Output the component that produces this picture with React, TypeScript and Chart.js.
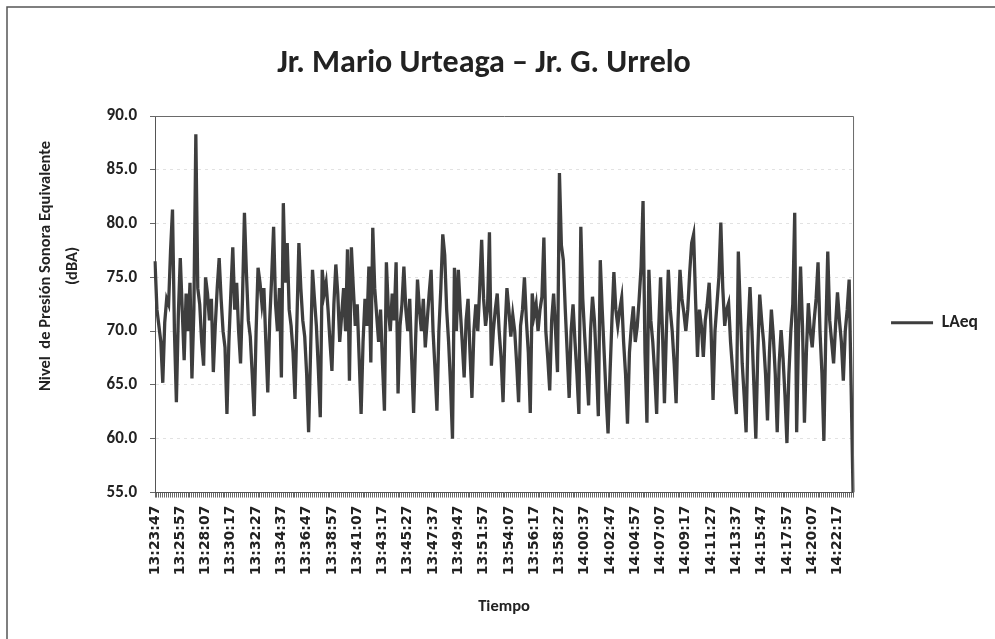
import React, { useEffect, useRef } from 'react';
import { Chart, registerables } from 'chart.js';

Chart.register(...registerables);

const TITLE = 'Jr. Mario Urteaga – Jr. G. Urrelo';
const Y_TITLE = ['Nivel  de Presión Sonora Equivalente', '(dBA)'];
const X_TITLE = 'Tiempo';
const SERIES_NAME = 'LAeq';

const START_TIME = '13:23:47';
const STEP_SECONDS = 10;

const Y_MIN = 55;
const Y_MAX = 90;
const Y_STEP = 5;

const TICK_LABELS = [
  '13:23:47', '13:25:57', '13:28:07', '13:30:17', '13:32:27', '13:34:37', '13:36:47',
  '13:38:57', '13:41:07', '13:43:17', '13:45:27', '13:47:37', '13:49:47', '13:51:57',
  '13:54:07', '13:56:17', '13:58:27', '14:00:37', '14:02:47', '14:04:57', '14:07:07',
  '14:09:17', '14:11:27', '14:13:37', '14:15:47', '14:17:57', '14:20:07', '14:22:17',
];

// LAeq (dBA), one reading every 10 s
const LAEQ = [
  76.5, 72.0, 70.5, 69.0, 65.2, 70.8, 73.0, 72.5, 77.5, 81.3,
  70.0, 63.4, 71.5, 76.8, 72.0, 67.3, 73.5, 70.0, 74.5, 65.6,
  72.0, 88.3, 74.0, 72.5, 69.0, 66.8, 75.0, 73.5, 71.0, 73.0,
  66.2, 70.5, 74.0, 76.8, 73.0, 70.0, 68.5, 62.3, 69.0, 73.5,
  77.8, 72.0, 74.5, 70.0, 67.0, 73.0, 81.0, 75.5, 71.0, 69.5,
  66.0, 62.1, 70.0, 75.9, 74.5, 72.5, 74.0, 69.0, 64.3, 71.0,
  75.0, 79.7, 72.5, 70.0, 74.0, 65.7, 81.9, 74.5, 78.2, 72.0,
  70.5, 68.0, 63.7, 71.0, 78.2, 74.0, 71.0, 69.5, 66.0, 60.6,
  68.0, 75.7, 73.0, 70.5, 66.5, 62.0, 75.7, 73.5, 74.5, 72.0,
  69.0, 66.3, 72.5, 76.2, 73.5, 69.0, 71.5, 74.0, 70.0, 77.6,
  65.4, 77.8, 74.0, 70.5, 72.5, 67.5, 62.3, 69.0, 73.0, 70.5,
  76.0, 67.1, 79.6, 74.0, 71.5, 69.0, 72.0, 67.0, 62.6, 76.4,
  72.0, 70.0, 73.5, 71.0, 76.4, 64.2, 70.5, 72.5, 76.0, 72.0,
  70.0, 73.0, 67.5, 62.4, 69.0, 74.8, 72.0, 70.0, 73.0, 68.5,
  71.0, 73.5, 75.7, 70.0, 66.5, 62.6, 70.0, 74.0, 79.0, 77.1,
  72.0, 69.0, 65.0, 60.0, 75.9, 70.0, 75.7, 72.0, 69.0, 65.7,
  71.0, 73.0, 68.0, 63.8, 70.0, 72.5, 70.0, 74.0, 78.5, 73.0,
  70.5, 72.0, 79.2, 66.8, 70.0, 72.0, 73.5, 70.0, 67.5, 63.4,
  70.0, 74.0, 72.0, 69.5, 71.5, 70.0, 67.0, 63.4, 70.5, 72.0,
  75.0, 71.0, 68.0, 62.4, 73.5, 71.5, 72.5, 70.0, 72.0, 73.2,
  78.7, 70.0, 67.5, 64.5, 71.0, 73.5, 70.0, 66.2, 84.7, 78.0,
  76.6, 72.0, 68.0, 63.8, 70.0, 72.5, 69.0, 66.0, 62.3, 79.7,
  73.0, 69.5, 66.5, 63.1, 70.0, 73.2, 71.0, 67.0, 62.1, 76.6,
  72.0, 68.0, 64.0, 60.5, 66.0, 71.0, 75.5, 72.0, 70.5, 72.0,
  73.1, 69.0, 66.0, 61.4, 68.0, 70.5, 72.3, 69.0, 70.4, 73.0,
  76.0, 82.1, 68.0, 61.5, 75.7, 71.0, 69.0, 66.0, 62.3, 70.0,
  75.0, 70.0, 63.3, 70.0, 75.7, 72.0, 70.0, 67.0, 63.3, 71.0,
  75.7, 73.0, 71.7, 70.0, 72.0, 75.5, 78.2, 79.0, 73.0, 67.6,
  72.0, 70.5, 67.6, 71.0, 72.5, 74.5, 70.0, 63.6, 70.0, 72.5,
  75.0, 80.1, 74.0, 70.5, 72.0, 72.6, 69.0, 66.5, 64.0, 62.3,
  77.4, 72.0, 67.0, 64.0, 60.6, 70.0, 74.1, 70.0, 65.0, 60.0,
  68.0, 73.4, 71.0, 69.0, 66.0, 61.7, 68.0, 72.0, 69.5, 66.0,
  60.6, 67.0, 70.1, 67.5, 64.0, 59.6, 66.0, 70.0, 72.5, 81.0,
  60.6, 70.0, 76.0, 70.5, 61.5, 68.0, 72.6, 70.0, 68.5, 71.0,
  73.0, 76.4, 70.0, 66.1, 59.8, 70.0, 77.4, 71.0, 69.0, 67.0,
  70.5, 73.6, 71.0, 69.0, 65.4, 70.0, 72.0, 74.8, 65.0, 55.0,
];

const LINE_COLOR = '#3e3e3e';
const TEXT_COLOR = '#222222';
const AXIS_COLOR = '#555555';
const FONT_FAMILY = 'Carlito, Lato, sans-serif';

function toSeconds(t: string): number {
  const [h, m, s] = t.split(':').map(Number);
  return h * 3600 + m * 60 + s;
}
function fmtTime(sec: number): string {
  const h = Math.floor(sec / 3600);
  const m = Math.floor((sec % 3600) / 60);
  const s = sec % 60;
  const p = (n: number) => String(n).padStart(2, '0');
  return `${p(h)}:${p(m)}:${p(s)}`;
}

const CATEGORIES = LAEQ.map((_, i) => fmtTime(toSeconds(START_TIME) + i * STEP_SECONDS));
const TICK_SET = new Set(TICK_LABELS);

const framePlugin = {
  id: 'frameAndTitles',
  beforeDraw(chart: any) {
    const { ctx } = chart;
    ctx.save();
    ctx.fillStyle = '#ffffff';
    ctx.fillRect(0, 0, chart.width, chart.height);
    ctx.restore();
  },
  afterDraw(chart: any) {
    const { ctx, chartArea } = chart;
    ctx.save();
    // outer chart frame (left and top edges visible in the scan)
    ctx.strokeStyle = '#555555';
    ctx.lineWidth = 1.5;
    ctx.beginPath();
    ctx.moveTo(7, chart.height + 2);
    ctx.lineTo(7, 7);
    ctx.lineTo(chart.width + 2, 7);
    ctx.stroke();
    // plot area border (top and right)
    ctx.strokeStyle = '#6a6a6a';
    ctx.lineWidth = 1;
    ctx.beginPath();
    ctx.moveTo(chartArea.left, chartArea.top + 0.5);
    ctx.lineTo(chartArea.right + 0.5, chartArea.top + 0.5);
    ctx.lineTo(chartArea.right + 0.5, chartArea.bottom);
    ctx.stroke();
    // chart title
    ctx.fillStyle = TEXT_COLOR;
    ctx.font = `bold 32px ${FONT_FAMILY}`;
    ctx.textAlign = 'center';
    ctx.textBaseline = 'alphabetic';
    ctx.fillText(TITLE, 484, 72);
    // y axis title (two lines, rotated)
    ctx.font = `bold 16.5px ${FONT_FAMILY}`;
    ctx.textBaseline = 'middle';
    const cy = 266;
    [46, 73].forEach((x, i) => {
      ctx.save();
      ctx.translate(x, cy);
      ctx.rotate(-Math.PI / 2);
      ctx.fillText(Y_TITLE[i], 0, 0);
      ctx.restore();
    });
    ctx.restore();
  },
};

export default function App() {
  const canvasRef = useRef<HTMLCanvasElement | null>(null);

  useEffect(() => {
    const canvas = canvasRef.current;
    if (!canvas) return;
    const chart = new Chart(canvas, {
      type: 'line',
      data: {
        labels: CATEGORIES,
        datasets: [
          {
            label: SERIES_NAME,
            data: LAEQ,
            borderColor: LINE_COLOR,
            backgroundColor: LINE_COLOR,
            borderWidth: 3.3,
            pointRadius: 0,
            pointHoverRadius: 0,
            tension: 0,
            fill: false,
          },
        ],
      },
      options: {
        animation: false,
        responsive: false,
        maintainAspectRatio: false,
        devicePixelRatio: 1,
        layout: { padding: { left: 8, right: 7, top: 116, bottom: 22 } },
        plugins: {
          title: { display: false },
          legend: {
            display: true,
            position: 'right',
            align: 'start',
            title: { display: true, text: ' ', padding: 71, font: { size: 15 } },
            labels: {
              boxWidth: 42,
              boxHeight: 3,
              padding: 38,
              color: TEXT_COLOR,
              font: { family: FONT_FAMILY, weight: 'bold', size: 17.5 },
              generateLabels: (c: any) =>
                c.data.datasets.map((ds: any, i: number) => ({
                  text: ds.label,
                  fillStyle: LINE_COLOR,
                  strokeStyle: LINE_COLOR,
                  lineWidth: 0,
                  hidden: false,
                  datasetIndex: i,
                  fontColor: TEXT_COLOR,
                })),
            },
          },
          tooltip: { enabled: false },
        },
        scales: {
          x: {
            type: 'category',
            offset: false,
            grid: {
              display: true,
              drawOnChartArea: false,
              drawTicks: true,
              tickLength: 5,
              color: '#666666',
              lineWidth: 1,
            },
            border: { display: true, color: AXIS_COLOR, width: 1 },
            ticks: {
              autoSkip: false,
              maxRotation: 90,
              minRotation: 90,
              padding: 8,
              color: TEXT_COLOR,
              font: { family: 'DejaVu Sans', weight: 'bold', size: 14 },
              callback: (_v: any, i: number) => (TICK_SET.has(CATEGORIES[i]) ? CATEGORIES[i] : ''),
            },
            title: {
              display: true,
              text: X_TITLE,
              color: TEXT_COLOR,
              font: { family: FONT_FAMILY, weight: 'bold', size: 16.5 },
              padding: { top: 14, bottom: 0 },
            },
          },
          y: {
            min: Y_MIN,
            max: Y_MAX,
            afterFit: (scale: any) => {
              scale.width = 147;
            },
            grid: {
              color: (ctx: any) => (ctx.tick && ctx.tick.value === Y_MAX ? '#6a6a6a' : '#e2e2e2'),
              tickColor: '#666666',
              tickLength: 5,
              lineWidth: 1,
            },
            border: { display: true, color: AXIS_COLOR, width: 1, dash: [3, 4] },
            ticks: {
              stepSize: Y_STEP,
              padding: 13,
              color: TEXT_COLOR,
              font: { family: FONT_FAMILY, weight: 'bold', size: 17 },
              callback: (v: any) => Number(v).toFixed(1),
            },
            title: { display: false },
          },
        },
      },
      plugins: [framePlugin],
    } as any);
    return () => chart.destroy();
  }, []);

  return (
    <div style={{ position: 'fixed', left: 0, top: 0, width: 995, height: 639, background: '#fff' }}>
      <canvas ref={canvasRef} width={995} height={639} style={{ display: 'block' }} />
    </div>
  );
}
